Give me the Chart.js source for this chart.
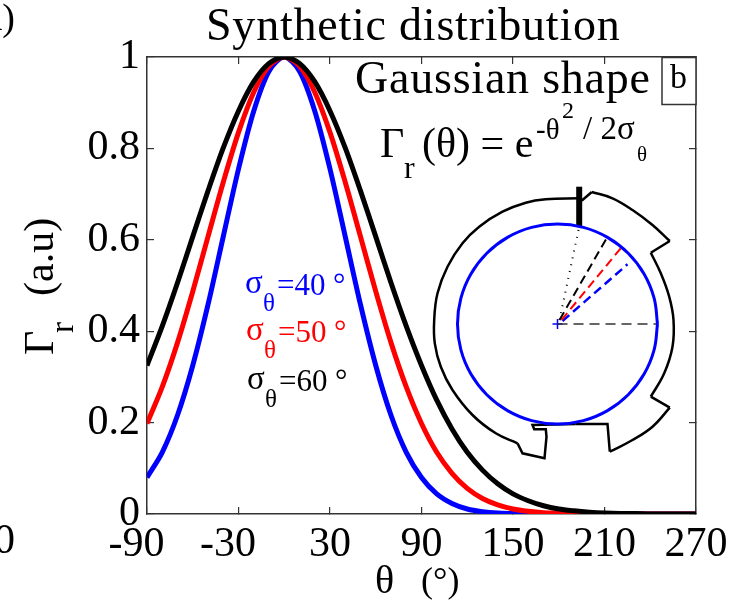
<!DOCTYPE html>
<html>
<head>
<meta charset="utf-8">
<title>Synthetic distribution</title>
<script src="https://cdn.jsdelivr.net/npm/chart.js@4"></script>
<style>
  html, body { margin: 0; padding: 0; background: #fff; }
  canvas { display: block; }
</style>
</head>
<body>
<canvas id="chart" width="741" height="600"></canvas>
<script>
// Perfiles
const thetaValues = [-90, -80, -70, -60, -50, -40, -30, -20, -10, 0, 10, 20, 30, 40, 50, 60, 70, 80, 90,
  100, 110, 120, 130, 140, 150, 160, 170, 180, 190, 200, 210, 220, 230, 240, 250, 260, 270];
const sigma40Values = [0.08, 0.135, 0.216, 0.325, 0.458, 0.607, 0.755, 0.882, 0.969, 1, 0.969, 0.882, 0.755, 0.607, 0.458, 0.325, 0.216, 0.135, 0.08,
  0.044, 0.023, 0.011, 0.005, 0.002, 0.001, 0, 0, 0, 0, 0, 0, 0, 0, 0, 0, 0, 0];
const sigma50Values = [0.198, 0.278, 0.375, 0.487, 0.607, 0.726, 0.835, 0.923, 0.98, 1, 0.98, 0.923, 0.835, 0.726, 0.607, 0.487, 0.375, 0.278, 0.198,
  0.135, 0.089, 0.056, 0.034, 0.02, 0.011, 0.006, 0.003, 0.002, 0.001, 0, 0, 0, 0, 0, 0, 0, 0];
const sigma60Values = [0.325, 0.411, 0.506, 0.607, 0.707, 0.801, 0.882, 0.946, 0.986, 1, 0.986, 0.946, 0.882, 0.801, 0.707, 0.607, 0.506, 0.411, 0.325,
  0.249, 0.186, 0.135, 0.096, 0.066, 0.044, 0.029, 0.018, 0.011, 0.007, 0.004, 0.002, 0.001, 0.001, 0, 0, 0, 0];

const xTicks = [-90, -30, 30, 90, 150, 210, 270];
const yTicks = [0, 0.2, 0.4, 0.6, 0.8, 1];

// Esquema de la seccion (unidad = radio del circulo azul)
const notchBottomX = [0.183, -0.25, -0.233, -0.117, -0.11, -0.13, -0.35, -0.4];
const notchBottomY = [-1, -1.01, -1.053, -1.053, -1.127, -1.343, -1.293, -1.193];
const arcLeftX = [-0.4, -0.617, -0.85, -1.05, -1.167, -1.227, -1.233, -1.2, -1.1, -0.95, -0.783, -0.55, -0.317, -0.117, 0.217];
const arcLeftY = [-1.193, -1.093, -0.91, -0.66, -0.427, -0.193, 0.04, 0.307, 0.573, 0.807, 0.973, 1.123, 1.213, 1.247, 1.257];
const notchTopX = [0.217, 0.25, 0.343];
const notchTopY = [1.257, 1.24, 1.32];
const arcTopX = [0.343, 0.55, 0.75, 0.95, 1.123];
const arcTopY = [1.32, 1.257, 1.14, 0.99, 0.83];
const notchUpperX = [1.123, 0.933];
const notchUpperY = [0.83, 0.713];
const arcRightX = [0.933, 1.033, 1.117, 1.16, 1.15, 1.067, 0.933];
const arcRightY = [0.713, 0.507, 0.273, 0.04, -0.227, -0.493, -0.727];
const notchLowerX = [0.933, 1.123];
const notchLowerY = [-0.727, -0.837];
const arcBottomX = [1.123, 0.95, 0.75, 0.523];
const arcBottomY = [-0.837, -1.027, -1.16, -1.277];
const notchEndX = [0.523, 0.5, 0.183];
const notchEndY = [-1.277, -1, -1];
const circleX = [1, 0.966, 0.866, 0.707, 0.5, 0.259, 0, -0.259, -0.5, -0.707, -0.866, -0.966, -1, -0.966, -0.866, -0.707, -0.5, -0.259, 0, 0.259, 0.5, 0.707, 0.866, 0.966, 1];
const circleY = [0, 0.259, 0.5, 0.707, 0.866, 0.966, 1, 0.966, 0.866, 0.707, 0.5, 0.259, 0, -0.259, -0.5, -0.707, -0.866, -0.966, -1, -0.966, -0.866, -0.707, -0.5, -0.259, 0];
const barX = [0.217, 0.217];
const barY = [0.973, 1.373];
const dottedX = [0.02, 0.217];
const dottedY = [0.04, 0.973];
const blackRayX = [0.02, 0.5];
const blackRayY = [0.04, 0.873];
const redRayX = [0.04, 0.64];
const redRayY = [0.04, 0.767];
const blueRayX = [0.05, 0.7];
const blueRayY = [0.03, 0.597];
const horizontalX = [0, 1];
const horizontalY = [0, 0];
const centerX = [0];
const centerY = [0];

const SERIF = '"Liberation Serif", "Times New Roman", serif';

function pairs(xs, ys) {
    return xs.map((x, i) => ({ x: x, y: ys[i] }));
}

function curve(label, values, color) {
    return {
        label: label,
        data: pairs(thetaValues, values),
        borderColor: color,
        borderWidth: 5,
        pointRadius: 0,
        tension: 0.3,
        xAxisID: 'x',
        yAxisID: 'y'
    };
}

function inset(label, xs, ys, color, width, dash, tension) {
    return {
        label: label,
        data: pairs(xs, ys),
        borderColor: color,
        borderWidth: width,
        borderDash: dash || [],
        pointRadius: 0,
        tension: tension || 0,
        xAxisID: 'x2',
        yAxisID: 'y2'
    };
}

function text(ctx, str, x, y, size, color, align, spacing) {
    ctx.font = size + 'px ' + SERIF;
    ctx.fillStyle = color || '#000';
    ctx.textAlign = align || 'left';
    ctx.textBaseline = 'alphabetic';
    ctx.letterSpacing = spacing || '0px';
    ctx.fillText(str, x, y);
    ctx.letterSpacing = '0px';
}

// Textos sueltos de la figura
const annotations = {
    id: 'annotations',
    afterDraw(chart) {
        const ctx = chart.ctx;
        ctx.save();

        // restos del panel vecino
        text(ctx, 'a)', 15, 30, 38, '#000', 'right');
        text(ctx, '0', 15, 553, 42, '#000', 'right');

        text(ctx, 'Synthetic distribution', 206, 40, 46, '#000', 'left', '0.78px');
        text(ctx, 'Gaussian shape', 355, 93, 46, '#000', 'left', '0.78px');

        // recuadro b
        ctx.fillStyle = '#fff';
        ctx.fillRect(662, 58, 34, 47);
        ctx.strokeStyle = '#333';
        ctx.lineWidth = 1.5;
        ctx.strokeRect(662, 57.5, 34, 47);
        text(ctx, 'b', 670, 88, 34);

        // formula
        text(ctx, 'Γ', 380, 157, 42);
        text(ctx, 'r', 404, 178, 32);
        text(ctx, '(θ) = e', 422, 157, 42);
        text(ctx, '-θ', 536, 139, 29);
        text(ctx, '2', 562, 118, 24);
        text(ctx, '/ 2σ', 583, 139, 33);
        text(ctx, 'θ', 637, 161, 21);

        // leyenda
        const rows = [['40', '#0000ff', 245, 295], ['50', '#ff0000', 246, 342], ['60', '#000000', 247, 391]];
        rows.forEach(r => {
            text(ctx, 'σ', r[2], r[3] - 2, 33, r[1]);
            text(ctx, 'θ', r[2] + 18, r[3] + 16, 25, r[1]);
            text(ctx, '=' + r[0], r[2] + 32, r[3], 31, r[1]);
            text(ctx, '°', r[2] + 88, r[3], 31, r[1]);
        });

        // titulos de ejes
        text(ctx, 'θ', 375, 593, 40);
        text(ctx, '(°)', 421, 592, 36);
        ctx.translate(53, 355);
        ctx.rotate(-Math.PI / 2);
        text(ctx, 'Γ', 0, 0, 42);
        text(ctx, 'r', 22, 20, 33);
        text(ctx, '(a.u)', 59, 0, 42);

        ctx.restore();
    }
};

const datasets = [
    curve('σθ=60 °', sigma60Values, '#000000'),
    curve('σθ=50 °', sigma50Values, '#ff0000'),
    curve('σθ=40 °', sigma40Values, '#0000ff'),
    inset('circle', circleX, circleY, '#0000ff', 3, null, 0.4),
    inset('notchBottom', notchBottomX, notchBottomY, '#000000', 2.5),
    inset('arcLeft', arcLeftX, arcLeftY, '#000000', 2.5, null, 0.4),
    inset('notchTop', notchTopX, notchTopY, '#000000', 2.5),
    inset('arcTop', arcTopX, arcTopY, '#000000', 2.5, null, 0.4),
    inset('notchUpper', notchUpperX, notchUpperY, '#000000', 2.5),
    inset('arcRight', arcRightX, arcRightY, '#000000', 2.5, null, 0.4),
    inset('notchLower', notchLowerX, notchLowerY, '#000000', 2.5),
    inset('arcBottom', arcBottomX, arcBottomY, '#000000', 2.5, null, 0.4),
    inset('notchEnd', notchEndX, notchEndY, '#000000', 2.5),
    inset('bar', barX, barY, '#000000', 6),
    inset('dotted', dottedX, dottedY, '#000000', 2, [1, 6]),
    inset('blackRay', blackRayX, blackRayY, '#000000', 2, [9, 5]),
    inset('redRay', redRayX, redRayY, '#ff0000', 2, [9, 5]),
    inset('blueRay', blueRayX, blueRayY, '#0000ff', 2.5, [9, 5]),
    inset('horizontal', horizontalX, horizontalY, '#333333', 1.5, [10, 6]),
    {
        label: 'center',
        data: pairs(centerX, centerY),
        showLine: false,
        pointStyle: 'cross',
        pointRadius: 5,
        pointBorderColor: '#0000ff',
        pointBorderWidth: 1.5,
        xAxisID: 'x2',
        yAxisID: 'y2'
    }
];

const frameGrid = { drawOnChartArea: false, tickLength: -7, color: '#333', lineWidth: 1.2 };
const frameBorder = { display: true, color: '#333', width: 1.5 };

new Chart(document.getElementById('chart').getContext('2d'), {
    type: 'line',
    data: { datasets: datasets },
    plugins: [annotations],
    options: {
        responsive: false,
        animation: false,
        layout: { padding: { top: 57, right: 45, left: 0, bottom: 0 } },
        plugins: { legend: { display: false }, title: { display: false }, tooltip: { enabled: false } },
        scales: {
            x: {
                type: 'linear', position: 'bottom', min: -90, max: 270,
                afterBuildTicks: s => { s.ticks = xTicks.map(v => ({ value: v })); },
                afterFit: s => { s.height = 86; },
                grid: frameGrid, border: frameBorder,
                ticks: {
                    autoSkip: false, maxRotation: 0, color: '#000', padding: 13,
                    font: { family: SERIF, size: 42 },
                    callback: v => (v < 0 ? v + '\u00a0\u00a0' : String(v))
                }
            },
            y: {
                type: 'linear', position: 'left', min: 0, max: 1,
                afterBuildTicks: s => { s.ticks = yTicks.map(v => ({ value: v })); },
                afterFit: s => { s.width = 147; },
                grid: frameGrid, border: frameBorder,
                ticks: {
                    autoSkip: false, color: '#000', padding: 14,
                    font: { family: SERIF, size: 42 },
                    callback: v => String(v)
                }
            },
            top: {
                type: 'linear', position: 'top', min: -90, max: 270,
                afterBuildTicks: s => { s.ticks = xTicks.map(v => ({ value: v })); },
                afterFit: s => { s.height = 0; },
                grid: frameGrid, border: frameBorder,
                ticks: { display: false }
            },
            right: {
                type: 'linear', position: 'right', min: 0, max: 1,
                afterBuildTicks: s => { s.ticks = yTicks.map(v => ({ value: v })); },
                afterFit: s => { s.width = 0; },
                grid: frameGrid, border: frameBorder,
                ticks: { display: false }
            },
            x2: { type: 'linear', display: false, min: -4.105, max: 1.385 },
            y2: { type: 'linear', display: false, min: -1.9, max: 2.67 }
        }
    }
});
</script>
</body>
</html>
